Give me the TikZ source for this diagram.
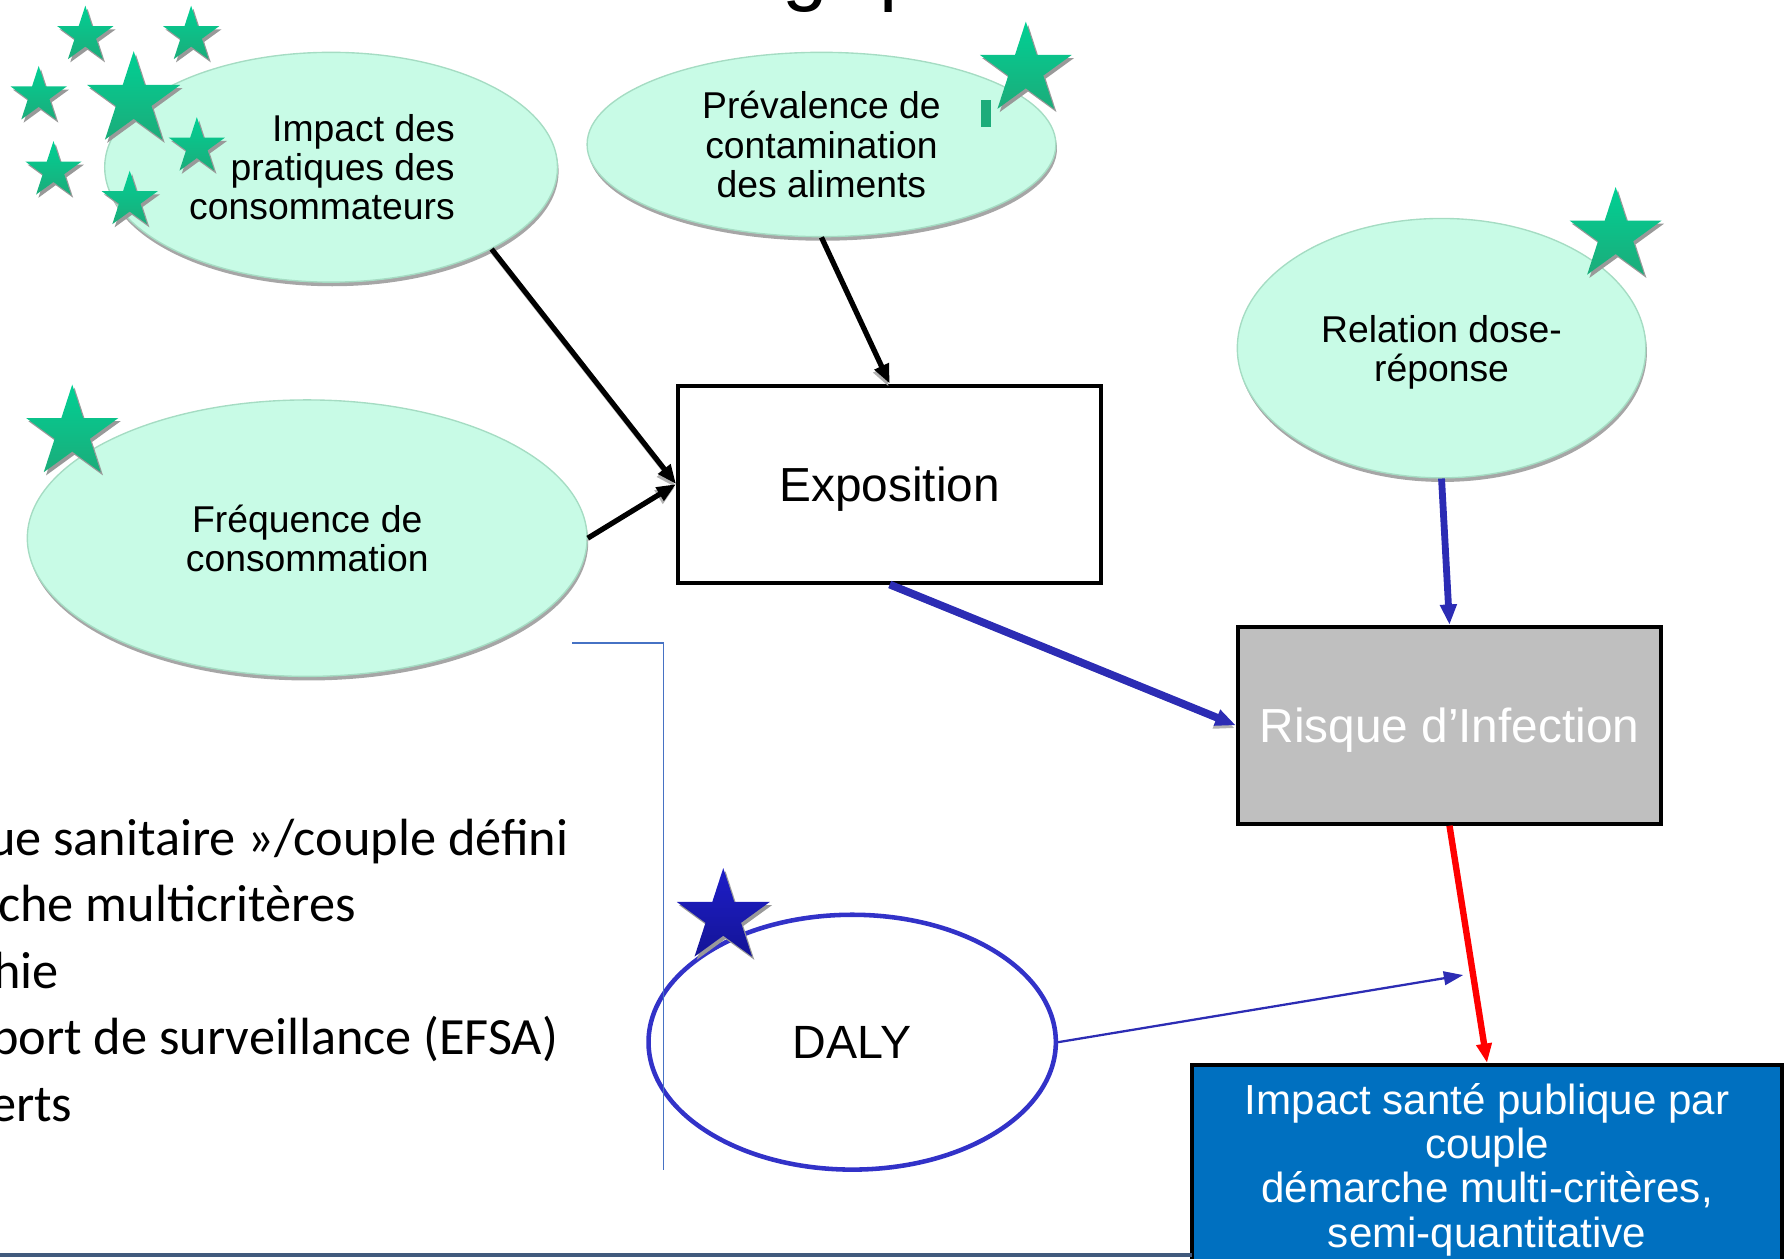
\documentclass[tikz,border=0pt]{standalone}
\usepackage{fontspec}
\setmainfont{Liberation Sans}
\newfontfamily\calibri{Carlito}
\usetikzlibrary{shapes.geometric,arrows.meta,shadows}

\definecolor{menthe}{RGB}{200,251,230}
\definecolor{bordmenthe}{RGB}{165,220,195}
\definecolor{vertetoile}{RGB}{0,208,148}
\definecolor{vertfonce}{RGB}{28,172,122}
\definecolor{bleudaly}{RGB}{50,50,200}
\definecolor{bleuetoile}{RGB}{30,30,200}
\definecolor{bleufonce}{RGB}{20,20,150}
\definecolor{bleufleche}{RGB}{44,44,180}
\definecolor{bleuboite}{RGB}{0,112,192}
\definecolor{grisrisque}{RGB}{191,191,191}
\definecolor{bleutrait}{RGB}{70,114,196}
\definecolor{ardoise}{RGB}{65,90,125}

\tikzset{
  bulle/.style={ellipse, fill=menthe, draw=bordmenthe, line width=0.6pt, inner sep=0pt, align=center,
    drop shadow={shadow xshift=0.5pt, shadow yshift=-1.8pt, fill=gray!70, opacity=1},
    font=\fontsize{16.4}{17.25}\selectfont},
  boite/.style={rectangle, draw=black, line width=1.75pt, inner sep=0pt, align=center},
  etoile/.style={star, star points=5, star point ratio=2.618, inner sep=0pt,
    top color=vertetoile, bottom color=vertfonce,
    drop shadow={shadow xshift=1pt, shadow yshift=-1.4pt, fill=gray!80, opacity=1}},
  etoilebleue/.style={etoile, top color=bleuetoile, bottom color=bleufonce},
  ombre/.style={preaction={draw=gray!60, transform canvas={xshift=-0.5pt, yshift=-1.3pt}}},
  fleche/.style={ombre, draw=black, line width=2.3pt, -{Triangle[length=8.5pt, width=6.5pt]}},
  flechebleue/.style={draw=bleufleche, line width=3pt, -{Triangle[length=9pt, width=7pt]}},
  flecherouge/.style={draw=red, line width=2.8pt, -{Triangle[length=8.5pt, width=6.5pt]}},
  flechefine/.style={draw=bleufleche, line width=1pt, -{Triangle[length=8.5pt, width=6pt]}},
  puce/.style={anchor=base east, inner sep=0pt, font=\calibri\fontsize{23}{29}\selectfont}
}

\begin{document}
\begin{tikzpicture}[x=0.5pt, y=-0.5pt]
\useasboundingbox (0,0) rectangle (1568,1106);
\clip (0,0) rectangle (1568,1106);

\node (titre) [anchor=base west, inner sep=0pt, font=\fontsize{36}{36}\selectfont] at (687,-4) {g\hspace{23pt}p};

\node (impact) [bulle, align=right, minimum width=199pt, minimum height=101pt] at (291,147) {Impact des\rule{8pt}{0pt}\\pratiques des\rule{8pt}{0pt}\\consommateurs\rule{8pt}{0pt}};
\node (prevalence) [bulle, text depth=0pt, minimum width=206pt, minimum height=81pt] at (722,127) {Prévalence de\\contamination\\des aliments};
\node (dose) [bulle, text depth=0pt, minimum width=179.5pt, minimum height=114pt] at (1267,306) {Relation dose-\\réponse};
\node (frequence) [bulle, minimum width=246pt, minimum height=121.5pt] at (270,473) {Fréquence de\\consommation};

\node (expo) [boite, fill=white, text depth=0pt, minimum width=186pt, minimum height=86.5pt, font=\fontsize{21}{24}\selectfont] at (782,425.5) {Exposition};
\node (risque) [boite, fill=grisrisque, text=white, text depth=0pt, minimum width=186pt, minimum height=86.5pt, font=\fontsize{21}{24}\selectfont] at (1274,637.5) {Risque d’Infection};
\node (sante) [boite, fill=bleuboite, text=white, minimum width=259pt, minimum height=92pt, font=\fontsize{18.5}{19.5}\selectfont] at (1307,1028) {Impact santé publique par\\couple\\démarche multi-critères,\\semi-quantitative};
\node (daly) [ellipse, draw=bleudaly, fill=white, line width=2pt, minimum width=179pt, minimum height=112pt, font=\fontsize{20.5}{24}\selectfont] at (749,916) {DALY};

\node (l1) [puce] at (500,751.5) {ue sanitaire »/couple défini};
\node (l2) [puce] at (313,810) {che multicritères};
\node (l3) [puce] at (52,868.5) {hie};
\node (l4) [puce] at (491,927) {port de surveillance (EFSA)};
\node (l5) [puce] at (64,985.5) {erts};

\coordinate (cadre1) at (503,565);
\coordinate (cadre2) at (583,565);
\coordinate (cadre3) at (583,1028);
\draw[bleutrait, line width=0.6pt] (cadre1) -- (cadre2) -- (cadre3);
\coordinate (pied1) at (0,1103);
\coordinate (pied2) at (1048,1103);
\draw[ardoise, line width=1.5pt] (pied1) -- (pied2);

\draw[fleche] (impact.-27) -- (expo.west);
\draw[fleche] (frequence.east) -- (expo.west);
\draw[fleche] (prevalence.south) -- (expo.north);
\draw[flechebleue, line width=3.4pt, ombre] (expo.south) -- (risque.west);
\draw[flechebleue] (dose.south) -- (risque.north);
\draw[flecherouge] (risque.south) -- (sante.north);
\coordinate (pointe) at (1286,857);
\draw[flechefine] (daly.east) -- (pointe);

\node (e1) [etoile, minimum size=26pt] at (75,31) {};
\node (e2) [etoile, minimum size=26pt] at (168,31) {};
\node (e3) [etoile, minimum size=26pt] at (34,84) {};
\node (e4) [etoile, minimum size=43pt] at (117.5,88) {};
\node (e5) [etoile, minimum size=26pt] at (173,129) {};
\node (e6) [etoile, minimum size=26pt] at (47,150) {};
\node (e7) [etoile, minimum size=26pt] at (114,176) {};
\node (e8) [etoile, minimum size=42.4pt] at (901.6,61.4) {};
\node (barre) [rectangle, fill=vertfonce, inner sep=0pt, minimum width=4.5pt, minimum height=12pt] at (866.5,100) {};
\node (e9) [etoile, minimum size=42.6pt] at (1420,207) {};
\node (e10) [etoile, minimum size=42.6pt] at (63.5,380.6) {};
\node (e11) [etoilebleue, minimum size=43pt] at (635.7,806) {};
\end{tikzpicture}
\end{document}
